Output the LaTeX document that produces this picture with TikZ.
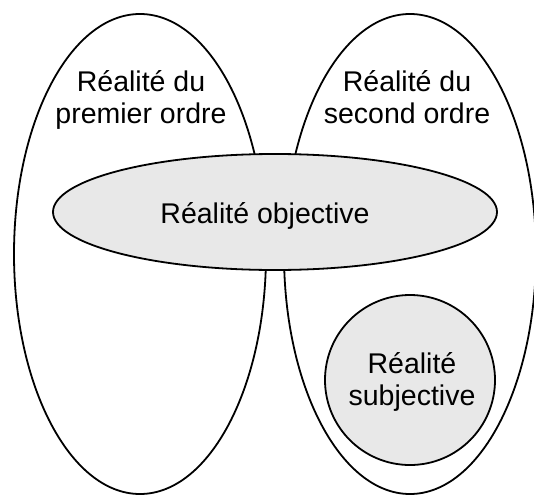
\documentclass[tikz,border=0pt]{standalone}
\usepackage{fontspec}
\setmainfont{Liberation Sans}
\usetikzlibrary{shapes.geometric,positioning}
\definecolor{realgrey}{HTML}{E8E8E8}
\tikzset{
  order/.style={
    ellipse,
    draw=black,
    fill=white,
    line width=1.8pt,
    inner sep=0pt,
    minimum width=252pt,
    minimum height=480pt
  },
  objective/.style={
    ellipse,
    draw=black,
    fill=realgrey,
    line width=1.8pt,
    inner sep=0pt,
    minimum width=444pt,
    minimum height=116pt
  },
  subjective/.style={
    circle,
    draw=black,
    fill=realgrey,
    line width=1.8pt,
    inner sep=0pt,
    minimum size=170pt
  },
  label/.style={
    align=center,
    inner sep=0pt,
    anchor=base,
    font=\fontsize{28.5}{31.5}\selectfont
  }
}

\begin{document}
\begin{tikzpicture}[x=1pt,y=-1pt]
  \useasboundingbox (0,0) rectangle (534,495);
  \node[order] (first) at (140,254) {};
  \node[order] (second) at (410,254) {};
  \node[objective] (objective) at (275,212) {};
  \node[subjective] (subjective) at (410,380) {};

  % base anchor sits on the last line
  \node[label] (firsttext) at (141,123) {Réalité du\\premier ordre};
  \node[label] (secondtext) at (407,123) {Réalité du\\second ordre};
  \node[label] (objtext) at (265,223) {Réalité objective};
  \node[label] (subjtext) at (412,405) {Réalité\\subjective};
\end{tikzpicture}
\end{document}
